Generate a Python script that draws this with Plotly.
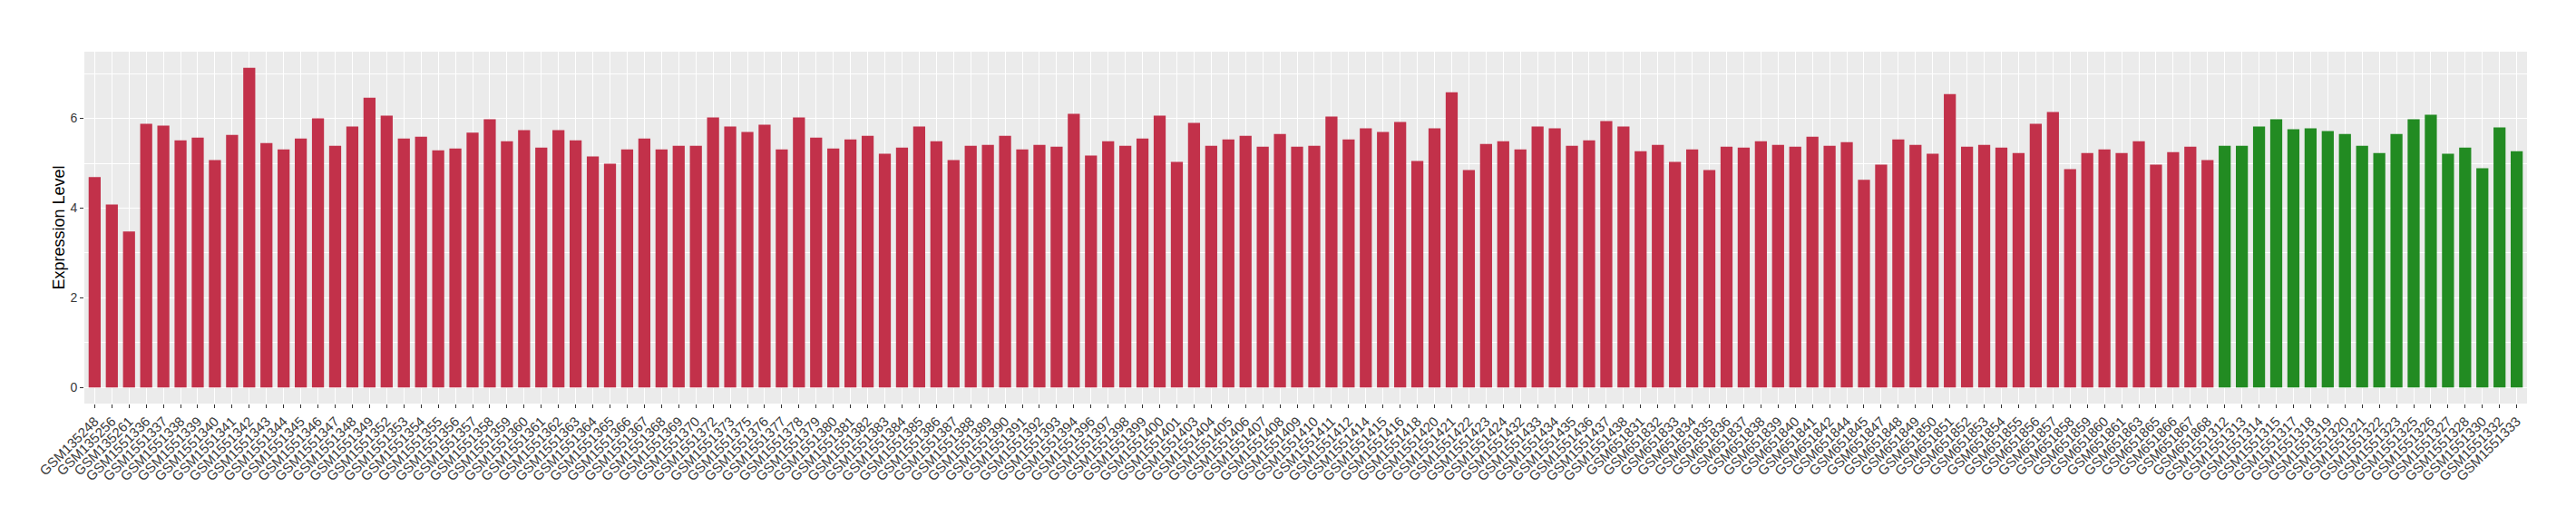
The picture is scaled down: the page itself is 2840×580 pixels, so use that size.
import plotly.graph_objects as go

# Red group sample IDs
red_samples = (
    ["GSM135248", "GSM135256", "GSM135261"]
    + ["GSM15513" + s for s in ["36", "37", "38", "39", "40", "41", "42", "43", "44", "45", "46", "47", "48", "49",
                                  "52", "53", "54", "55", "56", "57", "58", "59", "60", "61", "62", "63", "64", "65",
                                  "66", "67", "68", "69", "70", "72", "73", "75", "76", "77", "78", "79", "80", "81",
                                  "82", "83", "84", "85", "86", "87", "88", "89", "90", "91", "92", "93", "94", "96",
                                  "97", "98", "99"]]
    + ["GSM15514" + s for s in ["00", "01", "03", "04", "05", "06", "07", "08", "09", "10", "11", "12", "14", "15",
                                  "16", "18", "20", "21", "22", "23", "24", "32", "33", "34", "35", "36", "37", "38"]]
    + ["GSM6518" + s for s in ["31", "32", "33", "34", "35", "36", "37", "38", "39", "40", "41", "42", "44", "45",
                                 "47", "48", "49", "50", "51", "52", "53", "54", "55", "56", "57", "58", "59", "60",
                                 "61", "63", "65", "66", "67", "68"]]
)
red_values = [
    4.69, 4.08, 3.48, 5.88, 5.84, 5.51, 5.57, 5.07, 5.63, 7.13, 5.45, 5.31, 5.55, 6.00, 5.39, 5.82, 6.46, 6.06,
    5.55, 5.59, 5.29, 5.33, 5.68, 5.98, 5.49, 5.74, 5.35, 5.74, 5.51, 5.15, 4.99, 5.31, 5.55, 5.31, 5.39, 5.39,
    6.02, 5.82, 5.70, 5.86, 5.31, 6.02, 5.57, 5.33, 5.53, 5.61, 5.21, 5.35, 5.82, 5.49, 5.07, 5.39, 5.41, 5.61,
    5.31, 5.41, 5.37, 6.10, 5.17, 5.49, 5.39, 5.55, 6.06, 5.03, 5.90, 5.39, 5.53, 5.61, 5.37, 5.65, 5.37, 5.39,
    6.04, 5.53, 5.78, 5.70, 5.92, 5.05, 5.78, 6.58, 4.85, 5.43, 5.49, 5.31, 5.82, 5.78, 5.39, 5.51, 5.94, 5.82,
    5.27, 5.41, 5.03, 5.31, 4.85, 5.37, 5.35, 5.49, 5.41, 5.37, 5.59, 5.39, 5.47, 4.63, 4.97, 5.53, 5.41, 5.21,
    6.54, 5.37, 5.41, 5.35, 5.23, 5.88, 6.14, 4.87, 5.23, 5.31, 5.23, 5.49, 4.97, 5.25, 5.37, 5.07,
]

# Green group sample IDs
green_samples = ["GSM15513" + s for s in ["12", "13", "14", "15", "17", "18", "19", "20", "21", "22", "23", "25",
                                            "26", "27", "28", "30", "32", "33"]]
green_values = [5.39, 5.39, 5.82, 5.98, 5.76, 5.78, 5.72, 5.65, 5.39, 5.23, 5.65, 5.98, 6.08, 5.21, 5.35, 4.89,
                5.80, 5.27]

y_ticks = [0, 2, 4, 6]
y_title = "Expression Level"

all_samples = red_samples + green_samples

fig = go.Figure()
fig.add_trace(go.Bar(x=red_samples, y=red_values, marker=dict(color="#C2314A", line=dict(width=0)),
                     width=0.7, showlegend=False))
fig.add_trace(go.Bar(x=green_samples, y=green_values, marker=dict(color="#228B22", line=dict(width=0)),
                     width=0.7, showlegend=False))

ymax = max(red_values + green_values)
pad = ymax * 0.05

fig.update_layout(
    width=2832, height=572,
    margin=dict(l=85, r=54, t=49, b=135),
    paper_bgcolor="white",
    plot_bgcolor="#EBEBEB",
    font=dict(family="Liberation Sans, Arial, sans-serif", color="#3A3A3A"),
    bargap=0.3,
    xaxis=dict(
        type="category", categoryorder="array", categoryarray=all_samples,
        range=[-0.6, len(all_samples) - 1 + 0.6],
        tickangle=-45, tickfont=dict(size=15, color="#3A3A3A"),
        ticks="outside", ticklen=4, tickcolor="#333333", tickwidth=1,
        showgrid=True, gridcolor="white", gridwidth=1.2,
        zeroline=False, showline=False, automargin=False,
    ),
    yaxis=dict(
        range=[-pad, ymax + pad],
        tickvals=y_ticks, ticktext=[str(t) for t in y_ticks],
        tickfont=dict(size=14, color="#3A3A3A"),
        ticks="outside", ticklen=4, tickcolor="#333333", tickwidth=1,
        showgrid=True, gridcolor="white", gridwidth=1.2,
        minor=dict(dtick=1, tick0=0, showgrid=True, gridcolor="white", gridwidth=0.6, ticks=""),
        zeroline=False, showline=False, automargin=False,
        title=dict(text=y_title, font=dict(size=18, color="black"), standoff=1),
    ),
)

fig.write_html("out.html")
